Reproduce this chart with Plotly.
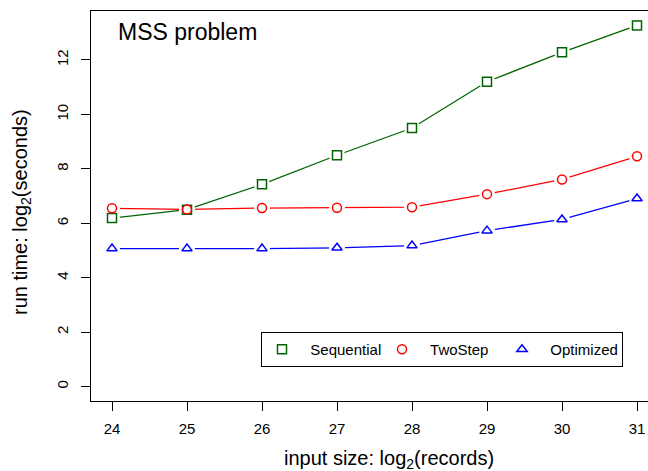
import plotly.graph_objects as go

# ---- data ----
sizes = [24, 25, 26, 27, 28, 29, 30, 31]
sequential = [6.19, 6.50, 7.43, 8.50, 9.50, 11.20, 12.28, 13.27]
twostep = [6.55, 6.51, 6.56, 6.57, 6.59, 7.07, 7.61, 8.46]
optimized = [5.07, 5.07, 5.07, 5.10, 5.18, 5.73, 6.14, 6.91]
y_ticks = [0, 2, 4, 6, 8, 10, 12]
x_ticks = sizes

FONT = "Liberation Sans, Arial, Helvetica, sans-serif"
series = [
    ("Sequential", sequential, "#006400", "square-open"),
    ("TwoStep", twostep, "#FF0000", "circle-open"),
    ("Optimized", optimized, "#0000FF", "triangle-up-open"),
]

fig = go.Figure()
# lines
for name, vals, col, sym in series:
    fig.add_trace(go.Scatter(x=sizes, y=vals, mode="lines", line=dict(color=col, width=1.3),
                             showlegend=False, hoverinfo="skip", cliponaxis=False))
# white gaps around points (R type="b")
for name, vals, col, sym in series:
    fig.add_trace(go.Scatter(x=sizes, y=vals, mode="markers",
                             marker=dict(symbol="circle", size=16, color="white", line=dict(width=0)),
                             showlegend=False, hoverinfo="skip", cliponaxis=False))
# points
for name, vals, col, sym in series:
    fig.add_trace(go.Scatter(x=sizes, y=vals, mode="markers",
                             marker=dict(symbol=sym, size=9, color=col, line=dict(color=col, width=1.5)),
                             showlegend=False, cliponaxis=False))
# legend entries
for name, vals, col, sym in series:
    fig.add_trace(go.Scatter(x=[None], y=[None], mode="markers", name="  " + name,
                             marker=dict(symbol=sym, size=9, color=col, line=dict(color=col, width=1.5))))

W, H = 648, 471
L, R, T, B = 91, 0, 11, 70
pw, ph = W - L - R, H - T - B

def px(x):
    return (x - L) / pw

def py(y):
    return (H - B - y) / ph

fig.update_layout(
    width=W, height=H,
    margin=dict(l=L, r=R, t=T, b=B, pad=0, autoexpand=False),
    paper_bgcolor="white", plot_bgcolor="white",
    font=dict(family=FONT, size=15, color="black"),
    showlegend=True,
    legend=dict(orientation="h", x=px(261), y=py(332), xanchor="left", yanchor="top",
                bordercolor="black", borderwidth=1, bgcolor="white",
                font=dict(size=15), entrywidth=75, entrywidthmode="pixels"),
    xaxis=dict(range=[23.72, 23.72 + pw / 75.0], tickvals=x_ticks, ticks="outside", ticklen=9,
               tickwidth=1, tickcolor="black", showline=True, linecolor="black", linewidth=1,
               mirror=True, showgrid=False, zeroline=False, tickfont=dict(size=15),
               ticklabelstandoff=5, automargin=False),
    yaxis=dict(range=[-0.53, 13.80], tickvals=y_ticks, ticks="outside", ticklen=9,
               tickwidth=1, tickcolor="black", showline=True, linecolor="black", linewidth=1,
               mirror=False, showgrid=False, zeroline=False, tickangle=-90, tickfont=dict(size=15),
               ticklabelstandoff=7, automargin=False),
    annotations=[
        dict(text="MSS problem", x=px(116), y=py(32), xref="paper", yref="paper",
             xanchor="left", yanchor="middle", showarrow=False, font=dict(size=23)),
        dict(text="input size: log<sub>2</sub>(records)", x=px(389), y=py(460), xref="paper",
             yref="paper", xanchor="center", yanchor="middle", showarrow=False, font=dict(size=20)),
        dict(text="run time: log<sub>2</sub>(seconds)", x=px(22), y=py(212), xref="paper",
             yref="paper", xanchor="center", yanchor="middle", showarrow=False, textangle=-90,
             font=dict(size=20)),
    ],
)

fig.write_html("out.html", config={"displayModeBar": False},
               post_script="document.body.style.margin='0';document.body.style.overflow='hidden';")
